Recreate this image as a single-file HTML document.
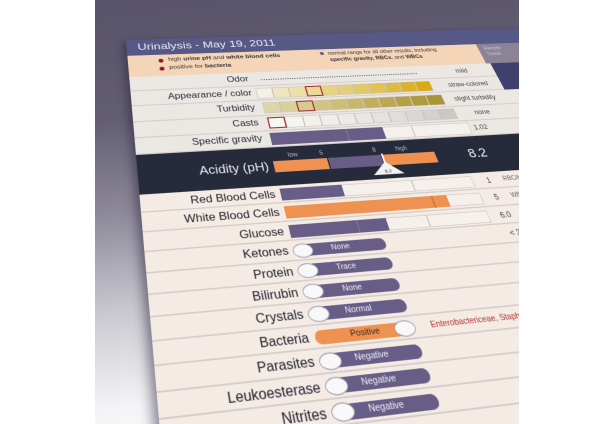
<!DOCTYPE html>
<html><head><meta charset="utf-8">
<style>
html,body{margin:0;padding:0;background:#fff;width:615px;height:424px;overflow:hidden;font-family:"Liberation Sans",sans-serif;}
#frame{position:absolute;left:95px;top:0;width:424px;height:424px;overflow:hidden;
 background:linear-gradient(172deg,#58536a 0%,#625d72 25%,#8e8a9a 45%,#c9c8cf 65%,#f4f4f6 85%,#fff 100%);}
#doc{position:absolute;left:-95px;top:0;width:760px;height:640px;transform-origin:0 0;
 transform:matrix3d(0.618115,-0.012525,0,0.00013627,-0.033767,0.420075,0,-0.00057333,0,0,1,0,126,40,0,1);
 background:#f3ebe4;box-shadow:-6px 4px 14px rgba(40,35,60,0.55);}
.a{position:absolute;}
.row{position:absolute;left:0;width:760px;border-bottom:2px solid #d6cdca;box-sizing:border-box;}
.top{background:#ebe7e3;}
.lab{position:absolute;right:568px;width:200px;text-align:right;font-size:16px;color:#2a2a35;white-space:nowrap;}
.lab2{position:absolute;right:568px;width:200px;text-align:right;font-size:17px;color:#22222e;white-space:nowrap;}
.val{position:absolute;left:505px;width:120px;text-align:center;font-size:12px;color:#444;white-space:nowrap;}
.cell{position:absolute;box-sizing:border-box;border:1px solid #c9c3bc;}
.sel{border:2.5px solid #a8302c;}
.box{position:absolute;box-sizing:border-box;border:1.5px solid #cfc8c3;background:#f5f0eb;}
.pill{position:absolute;left:200px;width:130px;height:17px;border-radius:9px;background:#675d86;color:#f0eef5;font-size:11px;text-align:center;line-height:17px;}
.knob{position:absolute;width:28px;height:20px;top:-1.5px;border-radius:50%;background:#f8f8f8;border:1.5px solid #9a96a4;box-sizing:border-box;}
.v2{position:absolute;font-size:12px;color:#444;white-space:nowrap;}
</style></head><body>
<div id="frame">
<div id="doc">
 <!-- header -->
 <div class="a" style="left:0;top:0;width:760px;height:35px;background:#565985;"></div>
 <div class="a" style="left:18px;top:5px;font-size:21px;color:#ecebf3;white-space:nowrap;">Urinalysis - May 19, 2011</div>
 <!-- peach legend -->
 <div class="a" style="left:0;top:35px;width:617px;height:45px;background:#f4d5b8;"></div>
 <div class="a" style="left:617px;top:35px;width:143px;height:45px;background:#8c8496;"></div>
 <div class="a" style="left:628px;top:40px;font-size:10px;color:#cfc9d6;line-height:13px;">Recent<br>Trend</div>
 <div class="a" style="left:50px;top:44px;width:8px;height:8px;border-radius:50%;background:#8b1c1c;"></div>
 <div class="a" style="left:50px;top:61px;width:8px;height:8px;border-radius:50%;background:#8b1c1c;"></div>
 <div class="a" style="left:66px;top:40px;font-size:11.5px;color:#333;white-space:nowrap;">high <b>urine pH</b> and <b>white blood cells</b></div>
 <div class="a" style="left:66px;top:57px;font-size:11.5px;color:#333;white-space:nowrap;">positive for <b>bacteria</b></div>
 <div class="a" style="left:326px;top:41px;width:7px;height:7px;border-radius:50%;background:#675d86;"></div>
 <div class="a" style="left:340px;top:38px;font-size:10.5px;color:#333;white-space:nowrap;line-height:14px;">normal range for all other results, including<br><b>specific gravity, RBCs</b>, and <b>WBCs</b></div>

 <!-- top rows -->
 <div class="row top" style="top:80px;height:29.2px;"></div>
 <div class="row top" style="top:109.2px;height:29.2px;"></div>
 <div class="row top" style="top:138.4px;height:29.2px;"></div>
 <div class="row top" style="top:167.6px;height:29.2px;"></div>
 <div class="row top" style="top:196.8px;height:29.2px;"></div>
 <div class="a" style="left:625px;top:80px;width:135px;height:58px;background:#3f416c;"></div>

 <div class="lab" style="top:85px;">Odor</div>
 <div class="a" style="left:212px;top:95px;width:271px;border-top:2px dotted #6a6a72;"></div>
 <div class="val" style="top:87px;">mild</div>

 <div class="lab" style="top:114px;">Appearance / color</div>
 <div class="cell" style="left:200px;top:113px;width:27.2px;height:21px;background:#f4f0e6"></div>
 <div class="cell" style="left:227.2px;top:113px;width:27.2px;height:21px;background:#efe6c0"></div>
 <div class="cell" style="left:254.4px;top:113px;width:27.2px;height:21px;background:#ece0a8"></div>
 <div class="cell sel" style="left:281.6px;top:113px;width:27.2px;height:21px;background:#e9da98"></div>
 <div class="cell" style="left:308.8px;top:113px;width:27.2px;height:21px;background:#e6d486"></div>
 <div class="cell" style="left:336px;top:113px;width:27.2px;height:21px;background:#e4cf78"></div>
 <div class="cell" style="left:363.2px;top:113px;width:27.2px;height:21px;background:#e2c968"></div>
 <div class="cell" style="left:390.4px;top:113px;width:27.2px;height:21px;background:#e0c255"></div>
 <div class="cell" style="left:417.6px;top:113px;width:27.2px;height:21px;background:#deba40"></div>
 <div class="cell" style="left:444.8px;top:113px;width:27.2px;height:21px;background:#dcb22a"></div>
 <div class="cell" style="left:472px;top:113px;width:27.2px;height:21px;background:#d9aa14"></div>
 <div class="val" style="top:116px;">straw-colored</div>

 <div class="lab" style="top:143px;">Turbidity</div>
 <div class="cell" style="left:205px;top:142px;width:27.6px;height:21px;background:#ddd6a8"></div>
 <div class="cell" style="left:232.6px;top:142px;width:27.6px;height:21px;background:#d9d19a"></div>
 <div class="cell sel" style="left:260.2px;top:142px;width:27.6px;height:21px;background:#d5cb8e"></div>
 <div class="cell" style="left:287.8px;top:142px;width:27.6px;height:21px;background:#d1c582"></div>
 <div class="cell" style="left:315.4px;top:142px;width:27.6px;height:21px;background:#ccbe76"></div>
 <div class="cell" style="left:343px;top:142px;width:27.6px;height:21px;background:#c7b76a"></div>
 <div class="cell" style="left:370.6px;top:142px;width:27.6px;height:21px;background:#c1af5e"></div>
 <div class="cell" style="left:398.2px;top:142px;width:27.6px;height:21px;background:#bba852"></div>
 <div class="cell" style="left:425.8px;top:142px;width:27.6px;height:21px;background:#b5a048"></div>
 <div class="cell" style="left:453.4px;top:142px;width:27.6px;height:21px;background:#ae9a40"></div>
 <div class="cell" style="left:481px;top:142px;width:27.6px;height:21px;background:#a89438"></div>
 <div class="val" style="top:145px;">slight turbidity</div>

 <div class="lab" style="top:172px;">Casts</div>
 <div class="cell sel" style="left:207px;top:171px;width:28.4px;height:21px;background:#f8f6f2"></div>
 <div class="cell" style="left:235.4px;top:171px;width:28.4px;height:21px;background:#f6f4f0"></div>
 <div class="cell" style="left:263.8px;top:171px;width:28.4px;height:21px;background:#f3f1ed"></div>
 <div class="cell" style="left:292.2px;top:171px;width:28.4px;height:21px;background:#f0eeea"></div>
 <div class="cell" style="left:320.6px;top:171px;width:28.4px;height:21px;background:#edebe7"></div>
 <div class="cell" style="left:349px;top:171px;width:28.4px;height:21px;background:#e9e7e3"></div>
 <div class="cell" style="left:377.4px;top:171px;width:28.4px;height:21px;background:#e5e3df"></div>
 <div class="cell" style="left:405.8px;top:171px;width:28.4px;height:21px;background:#e0deda"></div>
 <div class="cell" style="left:434.2px;top:171px;width:28.4px;height:21px;background:#dad8d4"></div>
 <div class="cell" style="left:462.6px;top:171px;width:28.4px;height:21px;background:#d3d1cd"></div>
 <div class="cell" style="left:491px;top:171px;width:28.4px;height:21px;background:#cbc9c5"></div>
 <div class="val" style="top:174px;">none</div>

 <div class="lab" style="top:201px;">Specific gravity</div>
 <div class="box" style="left:205px;top:200px;width:326px;height:22px;"></div>
 <div class="a" style="left:205px;top:200px;width:182px;height:22px;background:#675d86;"></div>
 <div class="a" style="left:327px;top:200px;width:1px;height:22px;background:#8e86a8;"></div>
 <div class="a" style="left:434px;top:200px;width:1.5px;height:22px;background:#cfc8c3;"></div>
 <div class="val" style="top:203px;left:520px;width:60px;">1.02</div>

 <!-- pH band -->
 <div class="a" style="left:0;top:226px;width:760px;height:65px;background:#262b3c;"></div>
 <div class="lab" style="top:248px;font-size:20px;color:#e8e6ea;">Acidity (pH)</div>
 <div class="a" style="left:225px;top:236px;font-size:10px;color:#b9b6c0;">low</div>
 <div class="a" style="left:274px;top:236px;font-size:10px;color:#b9b6c0;">5</div>
 <div class="a" style="left:358px;top:236px;font-size:10px;color:#b9b6c0;">8</div>
 <div class="a" style="left:395px;top:236px;font-size:10px;color:#b9b6c0;">high</div>
 <div class="a" style="left:200px;top:250px;width:83px;height:19px;background:#ef9150;"></div>
 <div class="a" style="left:285px;top:250px;width:83px;height:19px;background:#675d86;"></div>
 <div class="a" style="left:371px;top:250px;width:84px;height:19px;background:#ef9150;"></div>
 <div class="a" style="left:369px;top:248px;width:2.5px;height:18px;background:#f4f4f4;"></div>
 <svg class="a" style="left:345px;top:262px;" width="52" height="24"><polygon points="26,0 50,22 2,22" fill="#f2f2f4"/><text x="26" y="19" font-size="8" text-anchor="middle" fill="#333" font-family="Liberation Sans">8.2</text></svg>
 <div class="a" style="left:494px;top:244px;width:60px;text-align:center;font-size:22px;color:#f0f0f2;">8.2</div>

 <!-- lower rows -->
 <div class="row" style="top:291px;height:28.4px;"></div>
 <div class="row" style="top:319.4px;height:28.4px;"></div>
 <div class="row" style="top:347.8px;height:28.4px;"></div>
 <div class="row" style="top:376.2px;height:28.4px;"></div>
 <div class="row" style="top:404.6px;height:28.4px;"></div>
 <div class="row" style="top:433px;height:28.4px;"></div>
 <div class="row" style="top:461.4px;height:28.4px;"></div>
 <div class="row" style="top:489.8px;height:28.4px;"></div>
 <div class="row" style="top:518.2px;height:28.4px;"></div>
 <div class="row" style="top:546.6px;height:28.4px;"></div>
 <div class="row" style="top:575px;height:28.4px;"></div>
 <div class="row" style="top:603.4px;height:36.6px;"></div>

 <div class="lab2" style="top:295px;">Red Blood Cells</div>
 <div class="box" style="left:200px;top:296px;width:201px;height:19px;"></div>
 <div class="box" style="left:401px;top:296px;width:95px;height:19px;"></div>
 <div class="a" style="left:200px;top:296px;width:93px;height:19px;background:#675d86;"></div>
 <div class="v2" style="left:518px;top:298px;">1</div>
 <div class="v2" style="left:545px;top:299px;font-size:10px;color:#666;">RBC/hpf</div>

 <div class="lab2" style="top:323.4px;">White Blood Cells</div>
 <div class="box" style="left:200px;top:324.4px;width:298px;height:19px;"></div>
 <div class="a" style="left:200px;top:324.4px;width:245px;height:19px;background:#ef9150;"></div>
 <div class="a" style="left:421px;top:324.4px;width:1.5px;height:19px;background:#c8743c;"></div>
 <div class="v2" style="left:518px;top:326px;">5</div>
 <div class="v2" style="left:545px;top:327px;font-size:10px;color:#666;">WBC/hpf</div>

 <div class="lab2" style="top:351.8px;">Glucose</div>
 <div class="box" style="left:200px;top:352.8px;width:203px;height:19px;"></div>
 <div class="box" style="left:403px;top:352.8px;width:93px;height:19px;"></div>
 <div class="a" style="left:200px;top:352.8px;width:142px;height:19px;background:#675d86;"></div>
 <div class="a" style="left:298px;top:352.8px;width:1px;height:19px;background:#8e86a8;"></div>
 <div class="v2" style="left:514px;top:355px;">6.0</div>

 <div class="lab2" style="top:380.2px;">Ketones</div>
 <div class="pill" style="top:382px;"><div class="knob" style="left:-2px;"></div>None</div>
 <div class="v2" style="left:516px;top:383px;">&lt; 3</div>

 <div class="lab2" style="top:408.6px;">Protein</div>
 <div class="pill" style="top:410.4px;"><div class="knob" style="left:-2px;"></div>Trace</div>
 <div class="v2" style="left:524px;top:411px;">-</div>

 <div class="lab2" style="top:437px;">Bilirubin</div>
 <div class="pill" style="top:438.8px;"><div class="knob" style="left:-2px;"></div>None</div>

 <div class="lab2" style="top:465.4px;">Crystals</div>
 <div class="pill" style="top:467.2px;"><div class="knob" style="left:-2px;"></div>Normal</div>

 <div class="lab2" style="top:493.8px;">Bacteria</div>
 <div class="pill" style="top:495.6px;background:#ef9150;color:#3a2a20;"><div class="knob" style="left:104px;"></div>Positive</div>
 <div class="a" style="left:353px;top:497px;font-size:11px;color:#b3322e;white-space:nowrap;">Enterobactericeae, Staphylococcus</div>

 <div class="lab2" style="top:522.2px;">Parasites</div>
 <div class="pill" style="top:524px;"><div class="knob" style="left:-2px;"></div>Negative</div>

 <div class="lab2" style="top:550.6px;">Leukoesterase</div>
 <div class="pill" style="top:552.4px;"><div class="knob" style="left:-2px;"></div>Negative</div>

 <div class="lab2" style="top:579px;">Nitrites</div>
 <div class="pill" style="top:580.8px;"><div class="knob" style="left:-2px;"></div>Negative</div>
</div>
</div>
</body></html>
